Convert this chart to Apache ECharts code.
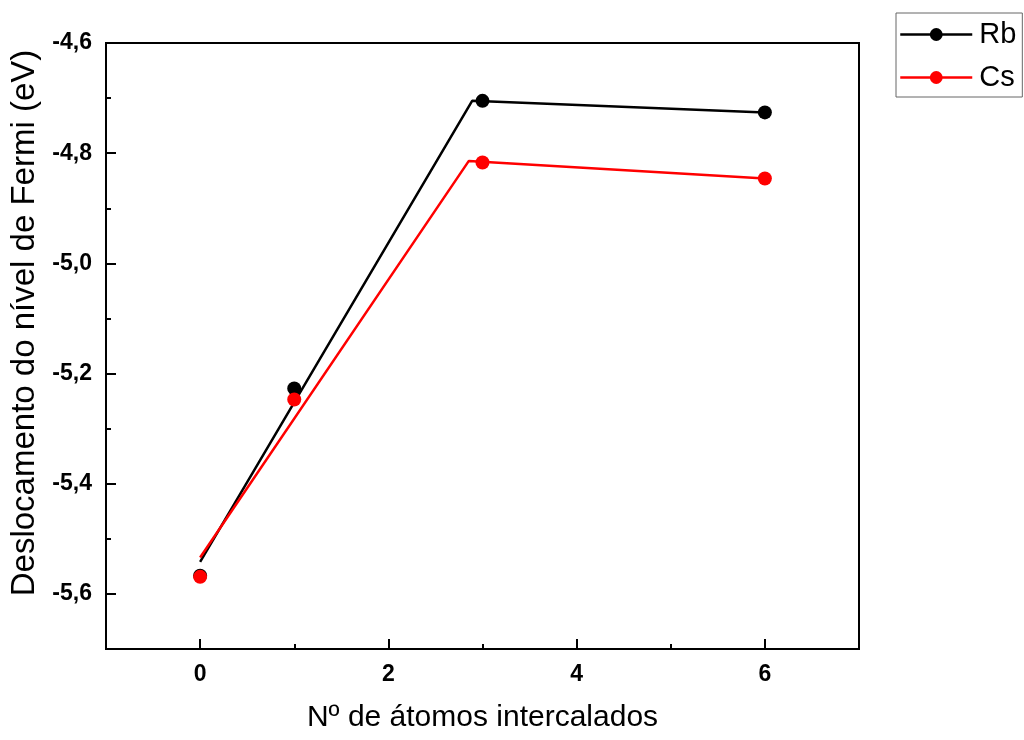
<!DOCTYPE html>
<html>
<head>
<meta charset="utf-8">
<script src="https://cdn.jsdelivr.net/npm/echarts@6/dist/echarts.min.js"></script>
<style>
    html, body { margin: 0; padding: 0; background: #fff; }
    #chart { width: 1024px; height: 740px; }
</style>
</head>
<body>
<div id="chart"></div>
<script>
// measured points
const xValues = [0, 1, 3, 6];
const rbValues = [-5.567, -5.227, -4.705, -4.726];
const csValues = [-5.569, -5.247, -4.817, -4.846];

// connecting lines (drawn separately, they don't pass through every point)
const rbLineX = [0, 2.89, 6];
const rbLineY = [-5.542, -4.705, -4.726];
const csLineX = [0, 2.855, 6];
const csLineY = [-5.534, -4.814, -4.846];

const xMajor = [0, 2, 4, 6];
const xMinor = [1, 3, 5];
const yMajor = [-5.6, -5.4, -5.2, -5.0, -4.8, -4.6];
const yMinor = [-5.5, -5.3, -5.1, -4.9, -4.7];

const font = 'Liberation Sans, Arial, sans-serif';

const pairs = (xs, ys) => xs.map((x, i) => [x, ys[i]]);
const fmt = (v) => v.toFixed(1).replace('.', ',');

const chart = echarts.init(document.getElementById('chart'));

const option = {
    animation: false,
    grid: {
        left: 106, top: 43, right: 165, bottom: 91,
        show: true, borderColor: '#000', borderWidth: 2
    },
    legend: {
        left: 896, top: 13,
        orient: 'vertical',
        data: ['Rb', 'Cs'],
        itemWidth: 72, itemHeight: 16, itemGap: 14,
        padding: [7, 6, 5, 3],
        borderColor: '#666', borderWidth: 1,
        lineStyle: { width: 2.5 },
        textStyle: { fontFamily: font, fontSize: 29, color: '#000', padding: [0, 0, 0, 2] }
    },
    xAxis: [{
        type: 'value', min: -1, max: 7, interval: 1,
        name: 'Nº de átomos intercalados',
        nameLocation: 'middle', nameGap: 54,
        nameTextStyle: { fontFamily: font, fontSize: 30, color: '#000' },
        axisLine: { onZero: false, lineStyle: { color: '#000', width: 2 } },
        axisTick: { inside: true, length: 10, customValues: xMajor, lineStyle: { color: '#000', width: 2 } },
        axisLabel: { customValues: xMajor, margin: 14, fontFamily: font, fontSize: 23, fontWeight: 'bold', color: '#000' },
        splitLine: { show: false }
    }, {
        type: 'value', min: -1, max: 7, interval: 1, position: 'bottom',
        axisLine: { show: false, onZero: false },
        axisTick: { inside: true, length: 5, customValues: xMinor, lineStyle: { color: '#000', width: 2 } },
        axisLabel: { show: false },
        splitLine: { show: false }
    }],
    yAxis: [{
        type: 'value', min: -5.7, max: -4.6, interval: 0.1,
        name: 'Deslocamento do nível de Fermi (eV)',
        nameLocation: 'middle', nameGap: 63,
        nameTextStyle: { fontFamily: font, fontSize: 33, color: '#000', padding: [0, 0, 0, 46] },
        axisLine: { show: true, onZero: false, lineStyle: { color: '#000', width: 2 } },
        axisTick: { show: true, inside: true, length: 10, customValues: yMajor, lineStyle: { color: '#000', width: 2 } },
        axisLabel: { customValues: yMajor, margin: 14, formatter: fmt, fontFamily: font, fontSize: 23, fontWeight: 'bold', color: '#000' },
        splitLine: { show: false }
    }, {
        type: 'value', min: -5.7, max: -4.6, interval: 0.1, position: 'left',
        axisLine: { show: false, onZero: false },
        axisTick: { show: true, inside: true, length: 5, customValues: yMinor, lineStyle: { color: '#000', width: 2 } },
        axisLabel: { show: false },
        splitLine: { show: false }
    }],
    series: [
        {
            name: 'Rb', type: 'line', data: pairs(rbLineX, rbLineY),
            symbol: 'circle', symbolSize: 13, showSymbol: false,
            lineStyle: { color: '#000', width: 2.5 }, itemStyle: { color: '#000' }, z: 2
        },
        {
            name: 'Cs', type: 'line', data: pairs(csLineX, csLineY),
            symbol: 'circle', symbolSize: 13, showSymbol: false,
            lineStyle: { color: '#ff0000', width: 2.5 }, itemStyle: { color: '#ff0000' }, z: 2
        },
        {
            name: 'Rb', type: 'scatter', data: pairs(xValues, rbValues),
            symbol: 'circle', symbolSize: 14, itemStyle: { color: '#000', opacity: 1 }, z: 3
        },
        {
            name: 'Cs', type: 'scatter', data: pairs(xValues, csValues),
            symbol: 'circle', symbolSize: 14, itemStyle: { color: '#ff0000', opacity: 1 }, z: 4
        }
    ]
};

chart.setOption(option);
</script>
</body>
</html>
